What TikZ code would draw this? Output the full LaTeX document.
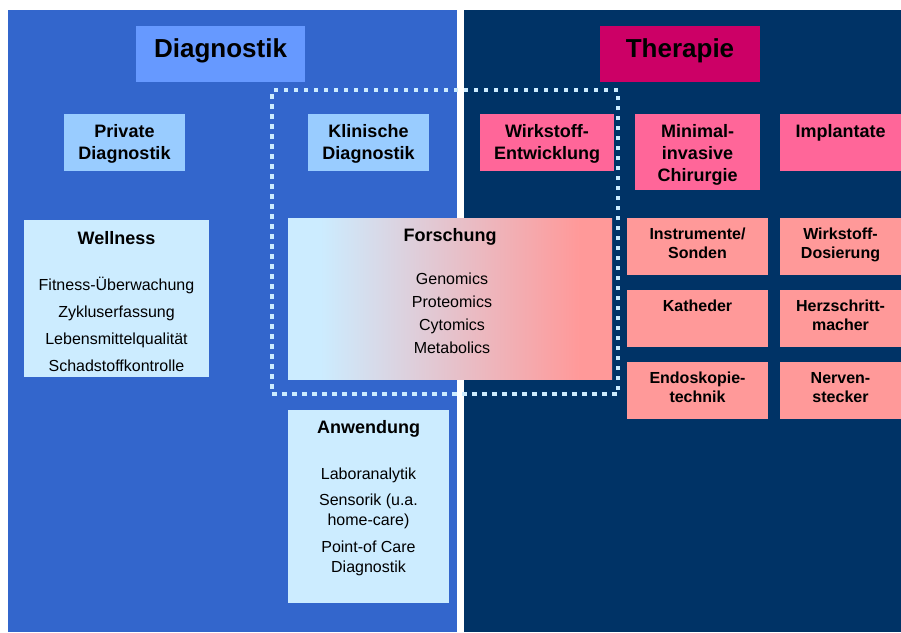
\documentclass[tikz,border=0pt]{standalone}
\usepackage{fontspec}
\setmainfont{Liberation Sans}
\usetikzlibrary{positioning}
\definecolor{diagblue}{HTML}{3366CC}
\definecolor{therablue}{HTML}{003366}
\definecolor{titleblue}{HTML}{6699FF}
\definecolor{subblue}{HTML}{99CCFF}
\definecolor{paleblue}{HTML}{CCECFF}
\definecolor{therared}{HTML}{CC0066}
\definecolor{subpink}{HTML}{FF6699}
\definecolor{palered}{HTML}{FF9999}
\pgfdeclarehorizontalshading{forschfade}{100bp}{color(0bp)=(paleblue); color(30bp)=(paleblue); color(70bp)=(palered); color(100bp)=(palered)}
\begin{document}
\begin{tikzpicture}
            [x=1pt, y=-1pt,
             box/.style={anchor=north west, inner sep=0pt, outer sep=0pt},
             dotframe/.style={draw=paleblue, line width=4pt, dash pattern=on 4.5pt off 5.5pt, inner sep=0pt},
             title/.style={anchor=base, font=\fontsize{26}{31}\selectfont\bfseries},
             head/.style={anchor=base, align=center, font=\fontsize{18}{22}\selectfont\bfseries},
             small/.style={anchor=base, align=center, font=\fontsize{16}{19}\selectfont\bfseries},
             item/.style={anchor=base, align=center, font=\fontsize{16}{20}\selectfont}]
            \useasboundingbox (0,0) rectangle (901,632);
            % the two halves
            \node[box, fill=diagblue, minimum width=449pt, minimum height=622pt] (diag) at (8,10) {};
            \node[box, fill=therablue, minimum width=437pt, minimum height=622pt] (thera) at (464,10) {};
            \node[box, fill=titleblue, minimum width=169pt, minimum height=56pt] (diagtitle) at (136,26) {};
            \node[box, fill=therared, minimum width=160pt, minimum height=56pt] (theratitle) at (600,26) {};
            % Diagnostik side
            \node[box, fill=subblue, minimum width=121pt, minimum height=57pt] (priv) at (64,114) {};
            \node[box, fill=subblue, minimum width=121pt, minimum height=57pt] (klin) at (308,114) {};
            \node[box, fill=paleblue, minimum width=185pt, minimum height=157pt] (well) at (24,220) {};
            \node[box, fill=paleblue, minimum width=161pt, minimum height=193pt] (anw) at (288,410) {};
            \node[box, shade, shading=forschfade, minimum width=324pt, minimum height=161pt] (forsch) at (288,218) {};
            % Therapie side
            \node[box, fill=subpink, minimum width=134pt, minimum height=57pt] (wirk) at (480,114) {};
            \node[box, fill=subpink, minimum width=125pt, minimum height=76pt] (mini) at (635,114) {};
            \node[box, fill=subpink, minimum width=121pt, minimum height=57pt] (impl) at (780,114) {};
            \node[box, fill=palered, minimum width=141pt, minimum height=57pt] (instr) at (627,218) {};
            \node[box, fill=palered, minimum width=121pt, minimum height=57pt] (dosi) at (780,218) {};
            \node[box, fill=palered, minimum width=141pt, minimum height=57pt] (kath) at (627,290) {};
            \node[box, fill=palered, minimum width=121pt, minimum height=57pt] (herz) at (780,290) {};
            \node[box, fill=palered, minimum width=141pt, minimum height=57pt] (endo) at (627,362) {};
            \node[box, fill=palered, minimum width=121pt, minimum height=57pt] (nerv) at (780,362) {};
            \node[dotframe, minimum width=346pt, minimum height=304pt] (frame) at (445,242) {};
            % texts (base = last line)
            \node[title] at (220.5,57) {Diagnostik};
            \node[title] at (680,57) {Therapie};
            \node[head] at (124.5,159) {Private\\Diagnostik};
            \node[head] at (368.5,159) {Klinische\\Diagnostik};
            \node[head] at (547,159) {Wirkstoff-\\Entwicklung};
            \node[head] at (697.5,181) {Minimal-\\invasive\\Chirurgie};
            \node[head] at (840.5,137) {Implantate};
            \node[head] at (116.5,244) {Wellness};
            \node[item] at (116.5,371) {Fitness-Überwachung\\[7pt]Zykluserfassung\\[7pt]Lebensmittelqualität\\[7pt]Schadstoffkontrolle};
            \node[head] at (450,241) {Forschung};
            \node[item] at (452,353) {Genomics\\[3pt]Proteomics\\[3pt]Cytomics\\[3pt]Metabolics};
            \node[head] at (368.5,433) {Anwendung};
            \node[item] at (368.5,572) {Laboranalytik\\[6pt]Sensorik (u.a.\\home-care)\\[6.5pt]Point-of Care\\Diagnostik};
            \node[small] at (697.5,258) {Instrumente/\\Sonden};
            \node[small] at (840.5,258) {Wirkstoff-\\Dosierung};
            \node[small] at (697.5,311) {Katheder};
            \node[small] at (840.5,330) {Herzschritt-\\macher};
            \node[small] at (697.5,402) {Endoskopie-\\technik};
            \node[small] at (840.5,402) {Nerven-\\stecker};
        \end{tikzpicture}
\end{document}
